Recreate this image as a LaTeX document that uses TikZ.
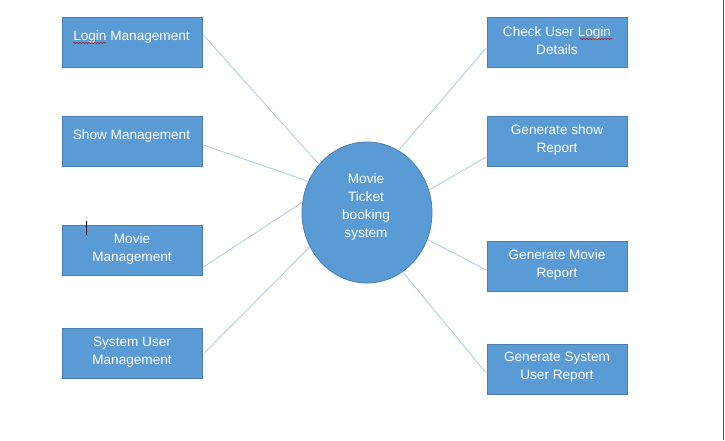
\documentclass[tikz,border=0pt]{standalone}
\usepackage{fontspec}
\setmainfont{Liberation Sans}
\usetikzlibrary{calc,shapes.geometric,decorations.pathmorphing}
\definecolor{boxfill}{HTML}{5B9BD5}
\definecolor{boxline}{HTML}{4A7EB0}
\definecolor{conn}{HTML}{ADC9E5}
\begin{document}
\begin{tikzpicture}[x=1pt,y=-1pt,
  box/.style={draw=boxline,line width=0.8pt,fill=boxfill,minimum width=140pt,minimum height=50pt,inner sep=0pt},
  lbl/.style={text=white,font=\fontsize{13.6}{18}\selectfont,align=center,inner sep=0pt},
  hubshape/.style={ellipse,draw=boxline,line width=0.8pt,fill=boxfill,minimum width=130pt,minimum height=141pt,inner sep=0pt},
  link/.style={draw=conn,line width=0.8pt},
  squig/.style={draw=red!75!black,line width=0.6pt,decorate,decoration={snake,amplitude=0.5pt,segment length=3pt}}]
\useasboundingbox (0,0) rectangle (725,440);
\fill[white] (0,0) rectangle (725,440);
\draw[gray!70!black,line width=1.5pt] (723.5,0) coordinate (edgeA) -- (723.5,440) coordinate (edgeB);
% boxes
\node[box] (login) at (132,42) {};
\node[box] (show) at (132,141.5) {};
\node[box] (movie) at (132,250) {};
\node[box] (sysuser) at (132,353) {};
\node[box] (check) at (557.5,42) {};
\node[box] (genshow) at (557.5,141.5) {};
\node[box] (genmovie) at (557.5,266) {};
\node[box] (gensys) at (557.5,369) {};
\node[hubshape] (hub) at (367,212.5) {};
% labels
\node[lbl] (tlogin) at (131.5,36.5) {Login Management};
\node[lbl] (tshow) at (131.5,135.5) {Show Management};
\node[lbl] (tmovie) at (132,248.5) {Movie\\Management};
\node[lbl] (tsys) at (132,352.5) {System User\\Management};
\node[lbl] (tcheck) at (557,40.5) {Check User Login\\Details};
\node[lbl] (tgenshow) at (557,140) {Generate show\\Report};
\node[lbl] (tgenmovie) at (557,264.5) {Generate Movie\\Report};
\node[lbl] (tgensys) at (557,367.5) {Generate System\\User Report};
\node[lbl] (thub) at (366,206.5) {Movie\\Ticket\\booking\\system};
% spell-check underlines
\coordinate (sqa) at (73,43);
\coordinate (sqb) at (106,43);
\coordinate (sqc) at (580,39);
\coordinate (sqd) at (612,39);
\draw[squig] (sqa) -- (sqb);
\draw[squig] (sqc) -- (sqd);
% text cursor
\coordinate (cura) at (86.5,221);
\coordinate (curb) at (86.5,235);
\draw[black,line width=1.3pt] (cura) -- (curb);
% connectors
\draw[link] ($(login.east)+(1,-7)$) -- (hub.135.9);
\draw[link] ($(show.east)+(1,3.5)$) -- (hub.152.7);
\draw[link] ($(movie.east)+(1,17)$) -- (hub.171.6);
\draw[link] ($(sysuser.east)+(2,0)$) -- (hub.211.2);
\draw[link] ($(check.west)+(-1,6)$) -- (hub.63.3);
\draw[link] ($(genshow.west)+(-1,15.5)$) -- (hub.20.2);
\draw[link] ($(genmovie.west)+(-1,4)$) -- (hub.-24.6);
\draw[link] ($(gensys.west)+(-1,4)$) -- (hub.-59.2);
\end{tikzpicture}
\end{document}
